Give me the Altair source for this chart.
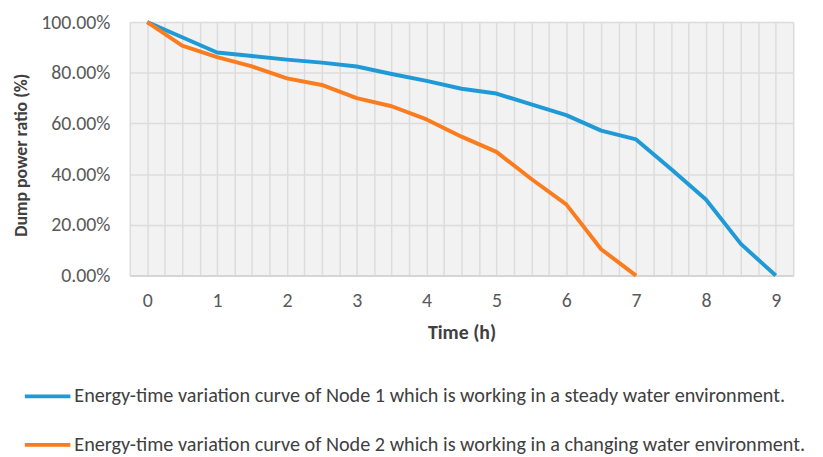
import altair as alt
import pandas as pd

# ---- data ----
node1_label = "Energy-time variation curve of Node 1 which is working in a steady water environment."
node2_label = "Energy-time variation curve of Node 2 which is working in a changing water environment."

node1_time = [0, 0.5, 1, 1.5, 2, 2.5, 3, 3.5, 4, 4.5, 5, 5.5, 6, 6.5, 7, 7.5, 8, 8.5, 9]
node1_ratio = [1.00, 0.94, 0.88, 0.866, 0.852, 0.840, 0.825, 0.795, 0.768, 0.737, 0.718,
               0.675, 0.633, 0.572, 0.537, 0.42, 0.30, 0.125, 0.0]

node2_time = [0, 0.5, 1, 1.5, 2, 2.5, 3, 3.5, 4, 4.5, 5, 5.5, 6, 6.5, 7]
node2_ratio = [1.00, 0.907, 0.862, 0.825, 0.778, 0.752, 0.70, 0.668, 0.616, 0.548, 0.488,
               0.381, 0.281, 0.104, 0.0]

x_grid_ticks = [i / 4 for i in range(-1, 38)]
y_ticks = [0, 0.2, 0.4, 0.6, 0.8, 1.0]

series_colors = ["#1f9ad6", "#fb7c1f"]

df = pd.DataFrame(
    {"time": node1_time, "ratio": node1_ratio, "series": node1_label}
)
df = pd.concat(
    [df, pd.DataFrame({"time": node2_time, "ratio": node2_ratio, "series": node2_label})],
    ignore_index=True,
)

FONT = "Carlito, Calibri, Liberation Sans, sans-serif"

chart = (
    alt.Chart(df)
    .mark_line(strokeWidth=4, strokeJoin="round")
    .encode(
        x=alt.X(
            "time:Q",
            title="Time (h)",
            scale=alt.Scale(domain=[-0.25, 9.25], nice=False, zero=False),
            axis=alt.Axis(
                values=x_grid_ticks,
                labelExpr="datum.value % 1 == 0 ? format(datum.value, 'd') : ''",
                labelOverlap=False,
                labelFlush=False,
                ticks=False,
                labelPadding=15,
                titlePadding=13,
            ),
        ),
        y=alt.Y(
            "ratio:Q",
            title="Dump power ratio (%)",
            scale=alt.Scale(domain=[0, 1], nice=False),
            axis=alt.Axis(
                values=y_ticks,
                format=".2%",
                ticks=False,
                domain=False,
                labelPadding=20,
                titleFontSize=18,
                titleX=-109,
                titleY=134,
                titleAngle=-90,
                titleAlign="center",
                titleBaseline="middle",
            ),
        ),
        color=alt.Color(
            "series:N",
            scale=alt.Scale(domain=[node1_label, node2_label], range=series_colors),
            legend=alt.Legend(
                title=None,
                orient="none",
                legendX=-108,
                legendY=353,
                direction="vertical",
                symbolType="stroke",
                symbolSize=2116,
                symbolStrokeWidth=4,
                labelLimit=0,
                labelFontSize=20.4,
                labelColor="#404040",
                labelFont=FONT,
                labelOffset=2,
                rowPadding=13,
            ),
        ),
    )
    .properties(
        width=670,
        height=256,
        autosize=alt.AutoSizeParams(type="none"),
        padding={"left": 123, "top": 12, "right": 22, "bottom": 181},
    )
    .configure_view(fill="#f2f2f2", stroke=None)
    .configure_axis(
        labelFont=FONT,
        titleFont=FONT,
        labelFontSize=20,
        titleFontSize=20,
        labelColor="#595959",
        titleColor="#404040",
        titleFontWeight="bold",
        gridColor="#dcdcdc",
        gridWidth=1.5,
        domainColor="#d0d0d0",
        domainWidth=1.5,
    )
)

chart.save("out.html", embed_options={"renderer": "svg", "actions": False})
